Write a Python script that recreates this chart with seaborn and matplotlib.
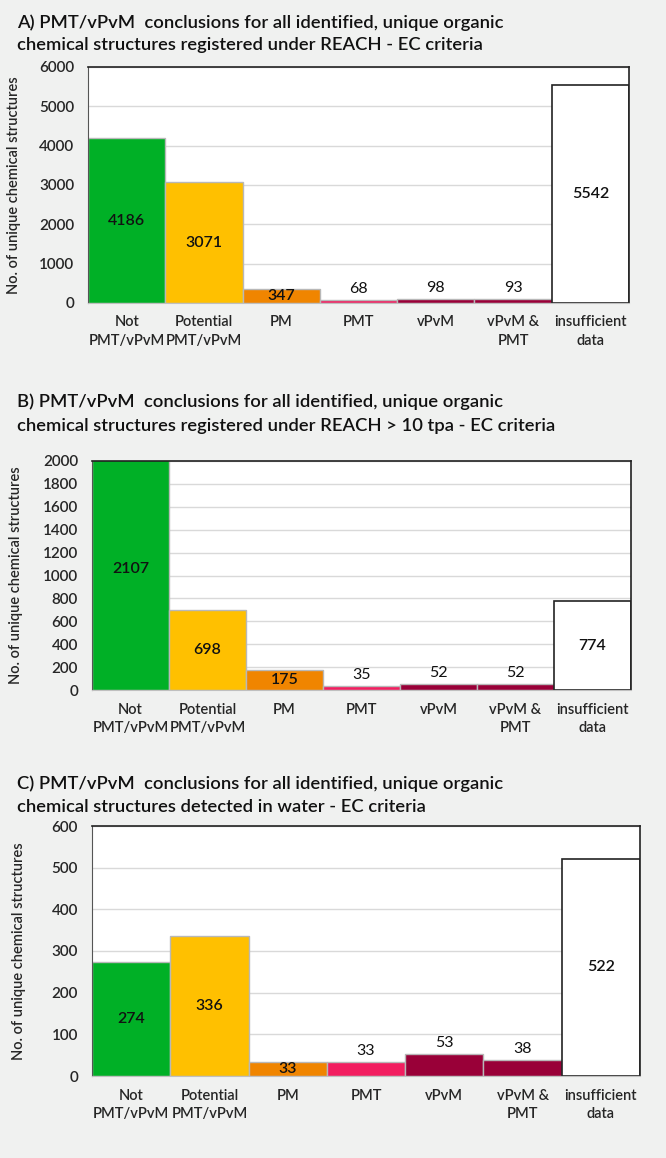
import matplotlib
matplotlib.use('Agg')
import matplotlib.pyplot as plt
import seaborn as sns
import pandas as pd

# categories and colours shared by all three panels
categories = ['Not\nPMT/vPvM', 'Potential\nPMT/vPvM', 'PM', 'PMT', 'vPvM', 'vPvM &\nPMT', 'insufficient\ndata']
bar_colors = ['#00b026', '#ffc000', '#f08500', '#f21e60', '#990038', '#990038', '#ffffff']
label_pos = ['center', 'center', 'center', 'above', 'above', 'above', 'center']

# panel values
counts_a = [4186, 3071, 347, 68, 98, 93, 5542]
counts_b = [2107, 698, 175, 35, 52, 52, 774]
counts_c = [274, 336, 33, 33, 53, 38, 522]

titles = [
    ['A) PMT/vPvM  conclusions for all identified, unique organic',
     'chemical structures registered under REACH - EC criteria'],
    ['B) PMT/vPvM  conclusions for all identified, unique organic',
     'chemical structures registered under REACH > 10 tpa - EC criteria'],
    ['C) PMT/vPvM  conclusions for all identified, unique organic',
     'chemical structures detected in water - EC criteria'],
]
y_max = [6000, 2000, 600]
y_step = [1000, 200, 100]

sns.set_style('white')
plt.rcParams['font.family'] = ['Lato', 'DejaVu Sans']

W, H = 666, 1158
fig = plt.figure(figsize=(W / 100, H / 100), dpi=100, facecolor='#f0f1f0')

# left, right, top, bottom in pixels
boxes = [(88, 629, 67, 303), (92, 631, 461, 690), (92, 640, 826, 1076)]
title_rows = [(23, 45), (402, 426), (784, 807)]
ylabel_x = [21, 23, 26]

for i, counts in enumerate([counts_a, counts_b, counts_c]):
    l, r, t, b = boxes[i]
    ax = fig.add_axes([l / W, 1 - b / H, (r - l) / W, (b - t) / H])
    df = pd.DataFrame({'category': categories, 'count': counts})
    sns.barplot(data=df, x='category', y='count', hue='category',
                palette=bar_colors, saturation=1, legend=False, width=1.0,
                edgecolor='#b8b8b8', linewidth=1.0, ax=ax, zorder=2)
    # insufficient data bar gets a black outline
    ax.patches[-1].set_edgecolor('#222222')
    ax.patches[-1].set_linewidth(1.2)

    ax.set_ylim(0, y_max[i])
    ax.set_xlim(-0.5, len(categories) - 0.5)
    ax.set_yticks(range(0, y_max[i] + 1, y_step[i]))
    ax.yaxis.grid(True, color='#d9d9d9', linewidth=1.0, zorder=0)
    ax.set_axisbelow(True)
    ax.set_xlabel('')
    ax.set_ylabel('No. of unique chemical structures', fontsize=10.5,
                  fontweight='semibold')
    ax.yaxis.set_label_coords((ylabel_x[i] - l) / (r - l), 0.5)
    ax.tick_params(axis='y', labelsize=11, length=0, pad=10)
    ax.tick_params(axis='x', labelsize=10.5, length=0, pad=9)
    for lab in ax.get_xticklabels():
        lab.set_fontweight('semibold')
        lab.set_linespacing(1.45)
    for lab in ax.get_yticklabels():
        lab.set_fontweight('semibold')
    for side in ['top', 'right']:
        ax.spines[side].set_color('#222222')
        ax.spines[side].set_linewidth(1.2)
    ax.spines['left'].set_color('#555555')
    ax.spines['bottom'].set_color('#bfbfbf')

    # value labels
    for j, v in enumerate(counts):
        if label_pos[j] == 'center':
            ax.text(j, v / 2, str(v), ha='center', va='center', fontsize=11.5,
                    fontweight='semibold', color='#111111', zorder=3)
        else:
            ax.annotate(str(v), (j, v), xytext=(0, 3), textcoords='offset points',
                        ha='center', va='bottom', fontsize=11.5, color='#111111',
                        zorder=3)

    for k, line in enumerate(titles[i]):
        fig.text(17 / W, 1 - title_rows[i][k] / H, line, ha='left',
                 va='center', fontsize=13.2, fontweight='semibold', color='#111111')

fig.savefig('out.png', dpi=100, facecolor=fig.get_facecolor())
